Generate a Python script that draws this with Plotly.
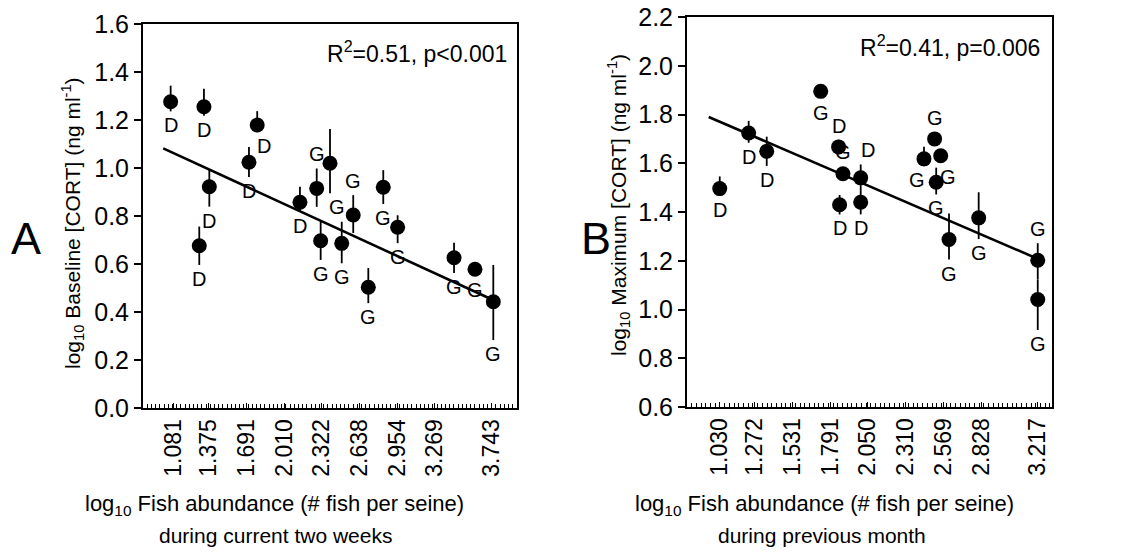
import plotly.graph_objects as go

# ---------------- Panel A data ----------------
a_x = [1.061, 1.339, 1.784, 1.715, 1.384, 1.300, 2.141, 2.281, 2.392, 2.314,
       2.586, 2.490, 2.837, 2.957, 2.712, 3.428, 3.603, 3.756]
a_y = [1.276, 1.255, 1.179, 1.024, 0.922, 0.676, 0.857, 0.915, 1.020, 0.697,
       0.804, 0.686, 0.920, 0.753, 0.503, 0.626, 0.578, 0.443]
a_err_up = [0.067, 0.075, 0.058, 0.063, 0.070, 0.080, 0.065, 0.083, 0.142, 0.080,
            0.083, 0.090, 0.071, 0.050, 0.080, 0.063, 0.010, 0.153]
a_err_dn = [0.040, 0.037, 0.030, 0.062, 0.083, 0.080, 0.040, 0.077, 0.125, 0.080,
            0.075, 0.083, 0.070, 0.066, 0.066, 0.064, 0.010, 0.160]
a_site = ['D', 'D', 'D', 'D', 'D', 'D', 'D', 'G', 'G', 'G',
          'G', 'G', 'G', 'G', 'G', 'G', 'G', 'G']
a_label_pos = ['b', 'b', 'br', 'b', 'b', 'b', 'b', 't', 'br', 'b',
               't', 'b', 'b', 'b', 'b', 'b', 'b', 'b']
a_fit_x = [0.999, 3.754]
a_fit_intercept = 1.311
a_fit_slope = -0.2294
a_ticks = ["1.081", "1.375", "1.691", "2.010", "2.322", "2.638", "2.954", "3.269", "3.743"]
a_stats = "R<sup>2</sup>=0.51, p&lt;0.001"

# ---------------- Panel B data ----------------
b_x = [1.031, 1.230, 1.354, 1.725, 1.848, 1.878, 2.000, 1.855, 2.000, 2.435,
       2.508, 2.550, 2.519, 2.607, 2.811, 3.217, 3.217]
b_y = [1.496, 1.724, 1.649, 1.895, 1.667, 1.557, 1.540, 1.430, 1.440, 1.618,
       1.700, 1.631, 1.522, 1.287, 1.376, 1.202, 1.041]
b_err_up = [0.050, 0.050, 0.060, 0.000, 0.030, 0.020, 0.055, 0.040, 0.050, 0.050,
            0.020, 0.020, 0.060, 0.107, 0.105, 0.070, 0.080]
b_err_dn = [0.030, 0.040, 0.060, 0.000, 0.030, 0.020, 0.050, 0.040, 0.050, 0.030,
            0.020, 0.020, 0.050, 0.082, 0.087, 0.080, 0.125]
b_site = ['D', 'D', 'D', 'G', 'D', 'G', 'D', 'D', 'D', 'G',
          'G', 'G', 'G', 'G', 'G', 'G', 'G']
b_label_pos = ['b', 'b', 'b', 'b', 't', 't', 'tr', 'b', 'b', 'bl',
               't', 'br', 'b', 'b', 'b', 't', 'b']
b_fit_x = [0.955, 3.217]
b_fit_intercept = 2.0357
b_fit_slope = -0.2573
b_ticks = ["1.030", "1.272", "1.531", "1.791", "2.050", "2.310", "2.569", "2.828", "3.217"]
b_stats = "R<sup>2</sup>=0.41, p=0.006"

FONT = "Liberation Sans, Arial, Helvetica, sans-serif"
W, H = 1128, 555

fig = go.Figure()


def add_panel(xs, ys, up, dn, fx, b0, b1, xa, ya):
    fig.add_trace(go.Scatter(
        x=fx, y=[b0 + b1 * v for v in fx], mode="lines",
        line=dict(color="black", width=2.6), xaxis=xa, yaxis=ya,
        showlegend=False, hoverinfo="skip"))
    fig.add_trace(go.Scatter(
        x=xs, y=ys, mode="markers",
        marker=dict(color="black", size=15),
        error_y=dict(type="data", symmetric=False, array=up, arrayminus=dn,
                     color="black", thickness=1.8, width=0),
        xaxis=xa, yaxis=ya, showlegend=False))


add_panel(a_x, a_y, a_err_up, a_err_dn, a_fit_x, a_fit_intercept, a_fit_slope, "x", "y")
add_panel(b_x, b_y, b_err_up, b_err_dn, b_fit_x, b_fit_intercept, b_fit_slope, "x2", "y2")

annotations = []


def site_labels(xs, ys, up, dn, sites, pos, xref, yref, r=0.03):
    for x, y, u, d, s, p in zip(xs, ys, up, dn, sites, pos):
        if p.startswith('t'):
            yy = y + max(u, r)
            ya, ysh = "bottom", 1
        else:
            yy = y - max(d, r)
            ya, ysh = "top", -1
        xsh = 7 if 'r' in p[1:] else (-7 if 'l' in p[1:] else 0)
        annotations.append(dict(x=x, y=yy, xref=xref, yref=yref, text=s,
                                showarrow=False, yanchor=ya, xanchor="center",
                                yshift=ysh, xshift=xsh,
                                font=dict(family=FONT, size=20, color="black")))


site_labels(a_x, a_y, a_err_up, a_err_dn, a_site, a_label_pos, "x", "y")
site_labels(b_x, b_y, b_err_up, b_err_dn, b_site, b_label_pos, "x2", "y2")


def px(v):
    return v / W


def py(v):
    return 1 - v / H


def txt(x, y, text, size, angle=0, xanchor="center"):
    annotations.append(dict(x=px(x), y=py(y), xref="paper", yref="paper", text=text,
                            showarrow=False, textangle=angle, xanchor=xanchor,
                            yanchor="middle",
                            font=dict(family=FONT, size=size, color="black")))


# stats
txt(509, 52, a_stats, 23, xanchor="right")
txt(1042, 46, b_stats, 23, xanchor="right")
# panel letters
txt(26, 238, "A", 45)
txt(596, 238, "B", 45)
# y titles
txt(72, 223, "log<sub>10</sub> Baseline [CORT] (ng ml<sup>-1</sup>)", 21, angle=-90)
txt(618, 205, "log<sub>10</sub> Maximum [CORT] (ng ml<sup>-1</sup>)", 21, angle=-90)
# x titles
txt(274, 505, "log<sub>10</sub> Fish abundance (# fish per seine)", 22)
txt(275, 535, "during current two weeks", 21)
txt(824, 505, "log<sub>10</sub> Fish abundance (# fish per seine)", 22)
txt(822, 535, "during previous month", 21)

xcommon = dict(tickmode="array", tickangle=-90, ticks="inside", ticklen=5,
               tickcolor="black", tickwidth=1.2, showline=True, linecolor="black",
               linewidth=2, mirror=True, showgrid=False, zeroline=False,
               automargin=False,
               tickfont=dict(family=FONT, size=23, color="black"))
ycommon = dict(ticks="outside", ticklen=7, tickcolor="black", tickwidth=1.5,
               showline=True, linecolor="black", linewidth=2, mirror=True,
               showgrid=False, zeroline=False, tickformat=".1f", automargin=False,
               tickfont=dict(family=FONT, size=25, color="black"))

fig.update_layout(
    width=W, height=H, margin=dict(l=0, r=0, t=0, b=0),
    paper_bgcolor="white", plot_bgcolor="white", showlegend=False,
    xaxis=dict(domain=[px(143), px(517)], range=[0.830, 3.954],
               tickvals=[float(t) for t in a_ticks], ticktext=a_ticks,
               minor=dict(ticks="inside", ticklen=4, tickcolor="black",
                          tickmode="linear", tick0=0.83, dtick=0.0351, showgrid=False),
               anchor="y", **xcommon),
    yaxis=dict(domain=[py(408), py(24)], range=[0, 1.6], dtick=0.2, tick0=0,
               anchor="x", **ycommon),
    xaxis2=dict(domain=[px(687), px(1052)], range=[0.806, 3.315],
                tickvals=[float(t) for t in b_ticks], ticktext=b_ticks,
                minor=dict(ticks="inside", ticklen=4, tickcolor="black",
                           tickmode="linear", tick0=0.806, dtick=0.0324, showgrid=False),
                anchor="y2", **xcommon),
    yaxis2=dict(domain=[py(407), py(17)], range=[0.6, 2.2], dtick=0.2, tick0=0.6,
                anchor="x2", **ycommon),
    annotations=annotations,
)

fig.write_html("out.html")
